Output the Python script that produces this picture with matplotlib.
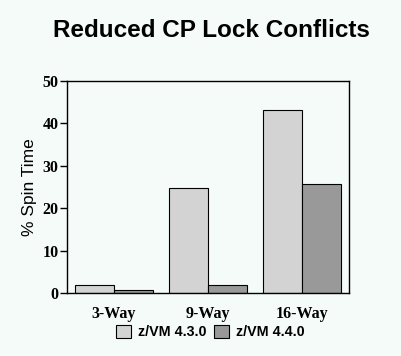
import matplotlib
matplotlib.use("Agg")
import matplotlib.pyplot as plt
import numpy as np

categories = ["3-Way", "9-Way", "16-Way"]
series_names = ["z/VM 4.3.0", "z/VM 4.4.0"]
zvm_430 = [1.9, 24.7, 43.2]
zvm_440 = [0.6, 2.0, 25.6]

bg = "#f5fbf8"
fig = plt.figure(figsize=(4.01, 3.56), dpi=100, facecolor=bg)
ax = fig.add_axes([67 / 401, 1 - 293 / 356, 282 / 401, 212 / 356])
ax.set_facecolor(bg)

x = np.arange(len(categories))
w = 0.415
b1 = ax.bar(x - w / 2, zvm_430, w, color="#d3d3d3", edgecolor="black", linewidth=0.8,
            label=series_names[0])
b2 = ax.bar(x + w / 2, zvm_440, w, color="#999999", edgecolor="black", linewidth=0.8,
            label=series_names[1])

ax.set_xlim(-0.5, 2.5)
ax.set_ylim(0, 50)
ax.set_yticks([0, 10, 20, 30, 40, 50])
ax.set_xticks(x)
ax.set_xticklabels(categories)
ax.tick_params(axis="x", length=0, pad=9)
ax.tick_params(axis="y", length=5, width=1, pad=1)
for lab in ax.get_xticklabels() + ax.get_yticklabels():
    lab.set_fontfamily("Liberation Serif")
    lab.set_fontweight("bold")
    lab.set_fontsize(11.5)
for s in ax.spines.values():
    s.set_linewidth(1)

ax.set_ylabel("% Spin Time", fontfamily="Liberation Sans", fontsize=12.5, labelpad=4)

fig.text(0.528, 0.915, "Reduced CP Lock Conflicts", ha="center", va="center",
         fontfamily="Liberation Sans", fontweight="bold", fontsize=17.5)

fig.legend(handles=[b1, b2], loc="center", bbox_to_anchor=(0.525, 1 - 332 / 356),
           ncol=2, frameon=False, handlelength=1.05, handleheight=1.1,
           handletextpad=0.5, columnspacing=0.5,
           prop={"family": "Liberation Sans", "weight": "bold", "size": 10.3})

fig.savefig("out.png", dpi=100, facecolor=bg)
